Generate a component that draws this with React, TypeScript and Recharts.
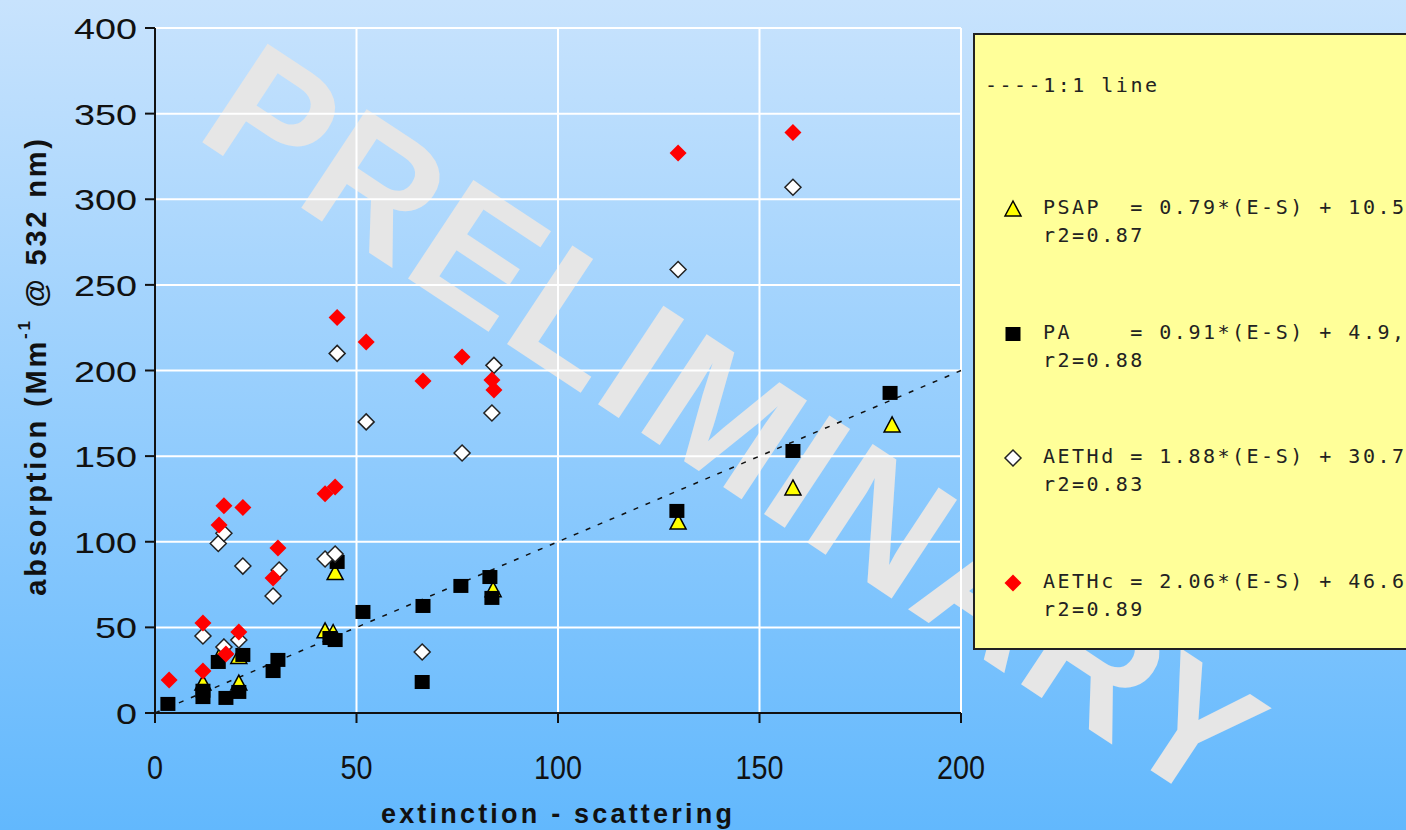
import React from "react";
import {
  ScatterChart,
  Scatter,
  XAxis,
  YAxis,
  CartesianGrid,
  ReferenceLine,
} from "recharts";

// absorption vs extinction - scattering
const PSAP = [
  { x: 11.9, y: 17.5 }, { x: 17.1, y: 38 }, { x: 20.8, y: 17.5 }, { x: 20.8, y: 33 },
  { x: 42.2, y: 48 }, { x: 44.2, y: 47 }, { x: 44.7, y: 82 }, { x: 83.9, y: 72 },
  { x: 129.8, y: 111.5 }, { x: 158.3, y: 131.4 }, { x: 182.9, y: 168.2 },
];

const PA = [
  { x: 3.2, y: 5.3 }, { x: 11.9, y: 9.3 }, { x: 11.9, y: 13 }, { x: 17.6, y: 8.8 },
  { x: 20.8, y: 12.3 }, { x: 15.7, y: 29.8 }, { x: 21.8, y: 33.9 }, { x: 29.3, y: 24.5 },
  { x: 30.5, y: 31 }, { x: 43.4, y: 43.8 }, { x: 44.7, y: 42.6 }, { x: 45.2, y: 88.2 },
  { x: 51.6, y: 59 }, { x: 66.3, y: 18.1 }, { x: 66.5, y: 62.5 }, { x: 75.9, y: 74.2 },
  { x: 83.1, y: 79.4 }, { x: 83.6, y: 67.2 }, { x: 129.5, y: 118 }, { x: 158.3, y: 153 },
  { x: 182.4, y: 186.9 },
];

const AETHD = [
  { x: 11.9, y: 45 }, { x: 15.7, y: 99 }, { x: 17.1, y: 105 }, { x: 17.1, y: 38.5 },
  { x: 20.8, y: 42.6 }, { x: 21.8, y: 85.8 }, { x: 29.3, y: 68.3 }, { x: 30.8, y: 83.5 },
  { x: 42.2, y: 89.9 }, { x: 44.7, y: 92.8 }, { x: 45.2, y: 210 }, { x: 52.4, y: 170 },
  { x: 66.3, y: 35.6 }, { x: 76.2, y: 151.8 }, { x: 83.6, y: 175.2 }, { x: 84.1, y: 203 },
  { x: 129.8, y: 259 }, { x: 158.3, y: 307 },
];

const AETHC = [
  { x: 3.5, y: 19.3 }, { x: 11.9, y: 24.5 }, { x: 11.9, y: 52.6 }, { x: 15.9, y: 109.8 },
  { x: 17.1, y: 121 }, { x: 17.6, y: 34.5 }, { x: 20.8, y: 47.3 }, { x: 21.8, y: 120 },
  { x: 29.3, y: 78.8 }, { x: 30.5, y: 96.4 }, { x: 42.2, y: 128 }, { x: 44.7, y: 132 },
  { x: 45.2, y: 231 }, { x: 52.4, y: 216.6 }, { x: 66.5, y: 193.9 }, { x: 76.2, y: 207.9 },
  { x: 83.6, y: 194.5 }, { x: 84.1, y: 188.6 }, { x: 129.8, y: 327 }, { x: 158.3, y: 339 },
];

const ONE_TO_ONE = [{ x: 0, y: 0 }, { x: 200, y: 200 }];
const X_TICKS = [0, 50, 100, 150, 200];
const Y_TICKS = [0, 50, 100, 150, 200, 250, 300, 350, 400];

const LEGEND_ENTRIES = [
  { key: "psap", eq: "PSAP  = 0.79*(E-S) + 10.5", r2: "r2=0.87" },
  { key: "pa", eq: "PA    = 0.91*(E-S) + 4.9,", r2: "r2=0.88" },
  { key: "aethd", eq: "AETHd = 1.88*(E-S) + 30.7", r2: "r2=0.83" },
  { key: "aethc", eq: "AETHc = 2.06*(E-S) + 46.6", r2: "r2=0.89" },
];

const Triangle = ({ cx, cy }: any) => (
  <polygon
    points={`${cx},${cy - 8} ${cx + 8},${cy + 7} ${cx - 8},${cy + 7}`}
    fill="#ffff00"
    stroke="#000"
    strokeWidth={1.5}
  />
);
const Square = ({ cx, cy }: any) => (
  <rect x={cx - 7.5} y={cy - 7} width={15} height={14} fill="#000" />
);
const WhiteDiamond = ({ cx, cy }: any) => (
  <polygon
    points={`${cx},${cy - 8} ${cx + 8},${cy} ${cx},${cy + 8} ${cx - 8},${cy}`}
    fill="#fff"
    stroke="#222"
    strokeWidth={1.5}
  />
);
const RedDiamond = ({ cx, cy }: any) => (
  <polygon
    points={`${cx},${cy - 8.5} ${cx + 8.5},${cy} ${cx},${cy + 8.5} ${cx - 8.5},${cy}`}
    fill="#ff0000"
  />
);

const MARKERS: Record<string, any> = {
  psap: Triangle,
  pa: Square,
  aethd: WhiteDiamond,
  aethc: RedDiamond,
};

const XTick = ({ x, y, payload }: any) => {
  const s = String(payload.value);
  return (
    <text x={x} y={y + 54} textAnchor="middle" fontSize={34} fill="#111"
      textLength={s.length * 16} lengthAdjust="spacingAndGlyphs">
      {s}
    </text>
  );
};

const YTick = ({ x, y, payload }: any) => {
  const s = String(payload.value);
  return (
    <text x={x} y={y + 11} textAnchor="end" fontSize={30} fill="#111"
      textLength={s.length * 21} lengthAdjust="spacingAndGlyphs">
      {s}
    </text>
  );
};

const YLabel = () => (
  <text
    x={36}
    y={366}
    transform="rotate(-90 36 366)"
    textAnchor="middle"
    dominantBaseline="central"
    fontSize={29}
    fontWeight="bold"
    fill="#111"
    letterSpacing={2.8}
  >
    absorption (Mm
    <tspan fontSize={17} dy={-12}>-1</tspan>
    <tspan dy={12}> @ 532 nm)</tspan>
  </text>
);

export default function App() {
  return (
    <div
      style={{
        position: "fixed",
        left: 0,
        top: 0,
        width: 1406,
        height: 830,
        overflow: "hidden",
        background: "linear-gradient(to bottom, #c8e3fd 0%, #62b8fd 100%)",
        fontFamily: "'Liberation Sans', Arial, sans-serif",
      }}
    >
      <div
        style={{
          position: "absolute",
          left: 735,
          top: 424,
          transform: "translate(-50%, -50%) rotate(33.5deg)",
          fontSize: 172,
          fontWeight: "bold",
          color: "#e6e6e6",
          whiteSpace: "nowrap",
          lineHeight: 0.72,
          letterSpacing: 4,
        }}
      >
        PRELIMINARY
      </div>
      <div style={{ position: "absolute", left: 0, top: 0 }}>
        <ScatterChart
          width={1406}
          height={830}
          margin={{ top: 28, right: 445, bottom: 57, left: 55 }}
        >
          <CartesianGrid stroke="#ffffff" strokeWidth={2} />
          <XAxis
            type="number"
            dataKey="x"
            domain={[0, 200]}
            ticks={X_TICKS}
            height={60}
            stroke="#111"
            strokeWidth={2}
            tickSize={10}
            tick={<XTick />}
            label={{
              value: "extinction - scattering",
              position: "insideBottom",
              offset: -50,
              fontSize: 27,
              fontWeight: "bold",
              fill: "#111",
              letterSpacing: 3.2,
            }}
          />
          <YAxis
            type="number"
            dataKey="y"
            domain={[0, 400]}
            ticks={Y_TICKS}
            width={100}
            stroke="#111"
            strokeWidth={2}
            tickSize={10}
            tickMargin={8}
            tick={<YTick />}
            label={{ content: () => <YLabel /> }}
          />
          <ReferenceLine
            segment={ONE_TO_ONE}
            stroke="#111"
            strokeWidth={1.5}
            strokeDasharray="5 8"
          />
          <Scatter data={PSAP} shape={Triangle} isAnimationActive={false} />
          <Scatter data={PA} shape={Square} isAnimationActive={false} />
          <Scatter data={AETHD} shape={WhiteDiamond} isAnimationActive={false} />
          <Scatter data={AETHC} shape={RedDiamond} isAnimationActive={false} />
        </ScatterChart>
      </div>
      <div
        style={{
          position: "absolute",
          left: 973,
          top: 33,
          width: 460,
          height: 613,
          background: "#ffff99",
          border: "2px solid #222",
          fontFamily: "'DejaVu Sans Mono', monospace",
          fontSize: 20,
          letterSpacing: 2.5,
          color: "#222",
          whiteSpace: "pre",
        }}
      >
        <div style={{ position: "absolute", left: 10, top: 38 }}>----1:1 line</div>
        {LEGEND_ENTRIES.map((e, i) => {
          const Marker = MARKERS[e.key];
          const top = 158 + i * 124.5;
          return (
            <div key={e.key} style={{ position: "absolute", left: 20, top }}>
              <svg width={36} height={30} style={{ position: "absolute", left: 0, top: 0 }}>
                <Marker cx={18} cy={16} />
              </svg>
              <div style={{ position: "absolute", left: 48, top: 2 }}>{e.eq}</div>
              <div style={{ position: "absolute", left: 48, top: 30 }}>{e.r2}</div>
            </div>
          );
        })}
      </div>
    </div>
  );
}
